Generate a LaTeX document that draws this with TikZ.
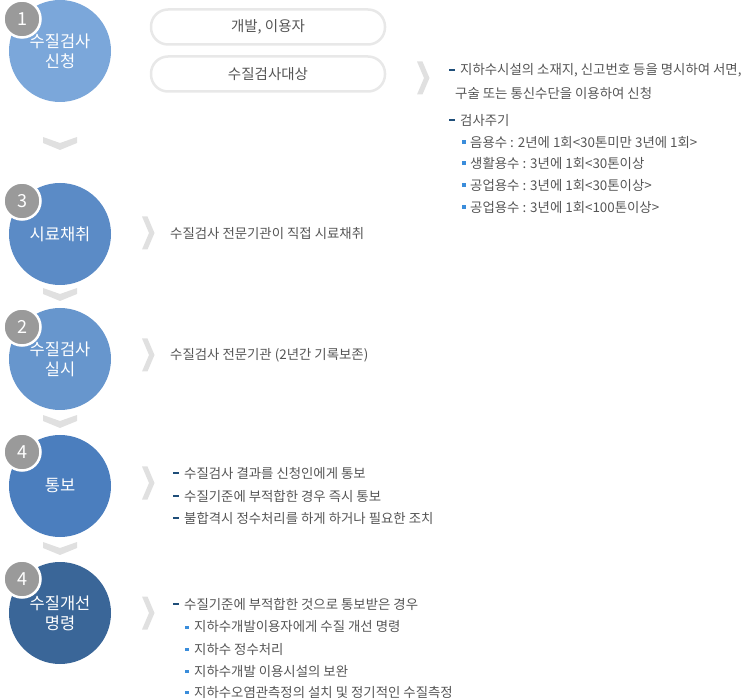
\documentclass[tikz,border=0pt]{standalone}
\usepackage{fontspec}
\setmainfont{Noto Sans CJK KR}
\usepackage{tikz}
\usetikzlibrary{positioning}
\definecolor{stepa}{HTML}{7BA7DA}
\definecolor{stepb}{HTML}{5B8BC6}
\definecolor{stepc}{HTML}{6796CD}
\definecolor{stepd}{HTML}{4B7EBE}
\definecolor{stepe}{HTML}{3A6698}
\definecolor{badgec}{HTML}{9A9A9A}
\definecolor{chevc}{HTML}{E0E0E0}
\definecolor{pillc}{HTML}{E8E8E8}
\definecolor{txtc}{HTML}{555555}
\definecolor{dashc}{HTML}{1F4E79}
\definecolor{dotc}{HTML}{3A8DDB}
\tikzset{
  stepnode/.style={circle, minimum size=102pt, inner sep=0pt, text=white, align=center,
                   font=\fontsize{16.5}{20}\selectfont},
  badge/.style={circle, draw=white, line width=2.5pt, fill=badgec, minimum size=37pt,
                inner sep=0pt, text=white, font=\fontsize{18}{18}\selectfont},
  pill/.style={draw=pillc, line width=2.5pt, rounded corners=17pt, fill=white,
               minimum width=234pt, minimum height=35pt, text=txtc,
               font=\fontsize{14.5}{16}\selectfont},
  txt/.style={anchor=west, text=txtc, inner sep=0pt, font=\fontsize{13.4}{15}\selectfont},
  downv/.style={fill=chevc},
  nextv/.style={fill=chevc},
}

\begin{document}
\begin{tikzpicture}[x=1pt, y=-1pt]
  \useasboundingbox (0,0) rectangle (742,700);
  % chevrons between the steps
  \foreach \y in {137,288,415,542}
    \fill[downv] (43,\y) -- (60,\y+6) -- (77,\y) -- (77,\y+6) -- (60,\y+13) -- (43,\y+6) -- cycle;
  \foreach \y in {78,233,355,483,613}
    \fill[nextv] ({\ifnum\y=78 417\else 142\fi},\y-16.5) -- ++(7,16.5) -- ++(-7,16.5) -- ++(5.5,0) -- ++(7,-16.5) -- ++(-7,-16.5) -- cycle;
  % steps
  \node[stepnode, fill=stepa] (s1) at (60,51) {수질검사\\신청};
  \node[stepnode, fill=stepb] (s2) at (60,234) {시료채취};
  \node[stepnode, fill=stepc] (s3) at (60,359) {수질검사\\실시};
  \node[stepnode, fill=stepd] (s4) at (60,486) {통보};
  \node[stepnode, fill=stepe] (s5) at (60,613) {수질개선\\명령};
  \node[badge] (b1) at (22,19) {1};
  \node[badge] (b2) at (22,201) {3};
  \node[badge] (b3) at (22,327) {2};
  \node[badge] (b4) at (22,452) {4};
  \node[badge] (b5) at (22,579) {4};
  % step 1
  \node[pill] (p1) at (268,27) {개발, 이용자};
  \node[pill] (p2) at (268,74) {수질검사대상};
  \node[txt] (r1) at (460,70) {지하수시설의 소재지, 신고번호 등을 명시하여 서면,};
  \node[txt] (r2) at (455,93) {구술 또는 통신수단을 이용하여 신청};
  \node[txt] (r3) at (460,120) {검사주기};
  \foreach \y in {70,120} \fill[dashc] (449,\y-1) rectangle ++(6,2);
  \foreach \y/\t in {142/{음용수 : 2년에 1회<30톤미만 3년에 1회>}, 163/{생활용수 : 3년에 1회<30톤이상},
                     185/{공업용수 : 3년에 1회<30톤이상>}, 207/{공업용수 : 3년에 1회<100톤이상>}}{
    \node[txt] at (470,\y) {\t};
    \fill[dotc] (462,\y-1.5) rectangle ++(3.5,3.5);
  }
  % steps 3, 2
  \node[txt] (r4) at (170,233) {수질검사 전문기관이 직접 시료채취};
  \node[txt] (r5) at (170,355) {수질검사 전문기관 (2년간 기록보존)};
  % step 4
  \foreach \y/\t in {473/{수질검사 결과를 신청인에게 통보}, 496/{수질기준에 부적합한 경우 즉시 통보},
                     518/{불합격시 정수처리를 하게 하거나 필요한 조치}}{
    \node[txt] at (184,\y) {\t};
    \fill[dashc] (173,\y-1) rectangle ++(6,2);
  }
  % step 5
  \node[txt] (r6) at (184,604) {수질기준에 부적합한 것으로 통보받은 경우};
  \fill[dashc] (173,603) rectangle ++(6,2);
  \foreach \y/\t in {627/{지하수개발이용자에게 수질 개선 명령}, 649/{지하수 정수처리},
                     671/{지하수개발 이용시설의 보완}, 692/{지하수오염관측정의 설치 및 정기적인 수질측정}}{
    \node[txt] at (194,\y) {\t};
    \fill[dotc] (185,\y-1.5) rectangle ++(3.5,3.5);
  }
\end{tikzpicture}
\end{document}
